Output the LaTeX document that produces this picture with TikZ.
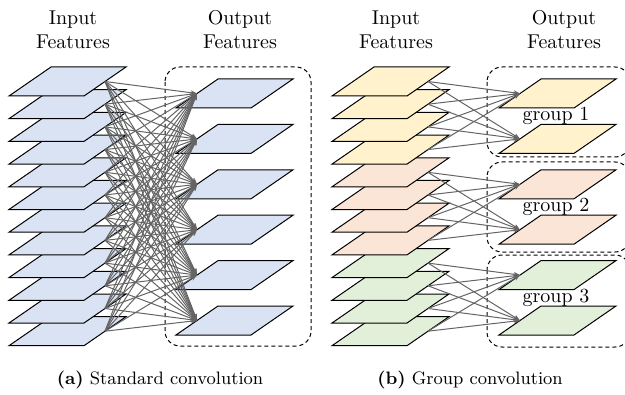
\documentclass[tikz,border=0pt]{standalone}
\usetikzlibrary{arrows.meta}
\definecolor{bluefill}{HTML}{DAE3F3}
\definecolor{yellowfill}{HTML}{FFF2CC}
\definecolor{pinkfill}{HTML}{FBE5D6}
\definecolor{greenfill}{HTML}{E2F0D9}
\definecolor{conngray}{HTML}{646464}
\begin{document}
\begin{tikzpicture}[x=0.5pt,y=-0.5pt,
  plane/.style={draw=black,line width=0.5pt},
  conn/.style={draw=conngray,line width=0.5pt,-{Stealth[length=3.2pt,width=2.4pt]}},
  grpbox/.style={draw=black,dash pattern=on 2pt off 1.5pt,rounded corners=7.5pt,line width=0.5pt},
  title/.style={align=center,inner sep=0pt},
  caption/.style={font=\fontsize{9}{11}\selectfont}]
\useasboundingbox (0,0) rectangle (625,395);
% (a) standard convolution
\node[title] (a-intitle) at (73,30) {Input\\Features};
\node[title] (a-outtitle) at (240,30) {Output\\Features};
\draw[grpbox] (165,67) rectangle (311,346);
\foreach \i in {11,10,...,0} {
  \filldraw[plane,fill=bluefill] (9,{96+22.7*\i}) -- ++(75,0) -- ++(42,-29) -- ++(-75,0) -- cycle;
  \coordinate (ain-\i) at (105,{81.5+22.7*\i});
}
\foreach \j in {5,4,...,0} {
  \filldraw[plane,fill=bluefill] (176,{108+45.4*\j}) -- ++(75,0) -- ++(42,-29) -- ++(-75,0) -- cycle;
  \coordinate (aout-\j) at (197,{93.5+45.4*\j});
}
\foreach \i in {0,...,11}
  \foreach \j in {0,...,5}
    \draw[conn] (ain-\i) -- (aout-\j);
\node[caption] (a-cap) at (160,380) {\textbf{(a)} Standard convolution};
% (b) group convolution
\node[title] (b-intitle) at (396,30) {Input\\Features};
\node[title] (b-outtitle) at (564,30) {Output\\Features};
\draw[grpbox] (487,67) rectangle (630,157);
\draw[grpbox] (487,162) rectangle (630,252);
\draw[grpbox] (487,255) rectangle (630,347);
\foreach \g/\col in {2/greenfill,1/pinkfill,0/yellowfill} {
  \foreach \k in {3,2,1,0} {
    \filldraw[plane,fill=\col] (332,{96+22.7*(4*\g+\k)}) -- ++(75,0) -- ++(42,-29) -- ++(-75,0) -- cycle;
    \coordinate (bin-\g-\k) at (428,{81.5+22.7*(4*\g+\k)});
  }
  \foreach \m in {1,0} {
    \filldraw[plane,fill=\col] (499,{108+45.4*(2*\g+\m)}) -- ++(75,0) -- ++(42,-29) -- ++(-75,0) -- cycle;
    \coordinate (bout-\g-\m) at (520,{93.5+45.4*(2*\g+\m)});
  }
}
\foreach \g in {0,1,2}
  \foreach \k in {0,...,3}
    \foreach \m in {0,1}
      \draw[conn] (bin-\g-\k) -- (bout-\g-\m);
\node (grp-1) at (556,116) {group 1};
\node (grp-2) at (556,207) {group 2};
\node (grp-3) at (556,298) {group 3};
\node[caption] (b-cap) at (470,380) {\textbf{(b)} Group convolution};
\end{tikzpicture}
\end{document}
